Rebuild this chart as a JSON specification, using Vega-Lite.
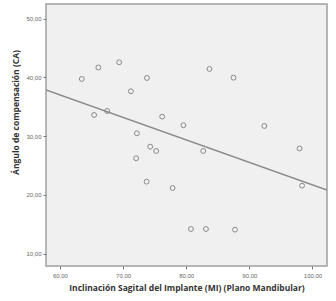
{
  "$schema": "https://vega.github.io/schema/vega-lite/v6.json",
  "autosize": "none",
  "width": 281,
  "height": 262,
  "padding": {"left": 46, "top": 4, "right": 9, "bottom": 35},
  "background": "white",
  "config": {
    "view": {"fill": "#f0f0f0", "stroke": "#a0a0a0", "strokeWidth": 1.5},
    "axis": {
      "grid": false,
      "domain": false,
      "tickColor": "#777",
      "tickSize": 3,
      "labelFont": "Liberation Sans",
      "labelFontSize": 6,
      "labelColor": "#666",
      "titleFont": "Open Sans",
      "titleFontSize": 8.5,
      "titleFontWeight": "bold",
      "titleColor": "#333"
    }
  },
  "data": {
    "values": [
      {"mi": 63.47, "ca": 39.74},
      {"mi": 66.09, "ca": 41.69},
      {"mi": 69.39, "ca": 42.58},
      {"mi": 71.24, "ca": 37.64},
      {"mi": 73.78, "ca": 39.91},
      {"mi": 65.42, "ca": 33.61},
      {"mi": 67.48, "ca": 34.29},
      {"mi": 76.20, "ca": 33.32},
      {"mi": 72.19, "ca": 30.49},
      {"mi": 74.30, "ca": 28.21},
      {"mi": 75.25, "ca": 27.48},
      {"mi": 72.08, "ca": 26.24},
      {"mi": 73.73, "ca": 22.26},
      {"mi": 77.85, "ca": 21.18},
      {"mi": 79.56, "ca": 31.86},
      {"mi": 80.75, "ca": 14.20},
      {"mi": 83.13, "ca": 14.20},
      {"mi": 87.73, "ca": 14.09},
      {"mi": 83.69, "ca": 41.44},
      {"mi": 87.49, "ca": 39.96},
      {"mi": 92.37, "ca": 31.74},
      {"mi": 82.70, "ca": 27.48},
      {"mi": 97.95, "ca": 27.91},
      {"mi": 98.35, "ca": 21.57}
    ]
  },
  "layer": [
    {
      "transform": [
        {"regression": "ca", "on": "mi", "extent": [57.8, 102.3]}
      ],
      "mark": {"type": "line", "color": "#8a8a8a", "strokeWidth": 1.5, "clip": true},
      "encoding": {
        "x": {"field": "mi", "type": "quantitative"},
        "y": {"field": "ca", "type": "quantitative"}
      }
    },
    {
      "mark": {"type": "point", "shape": "circle", "filled": false, "color": "#8a8a8a", "size": 24, "strokeWidth": 1, "opacity": 1},
      "encoding": {
        "x": {
          "field": "mi",
          "type": "quantitative",
          "scale": {"domain": [57.8, 102.3], "nice": false, "zero": false},
          "axis": {
            "values": [60, 70, 80, 90, 100],
            "title": "Inclinación Sagital del Implante (MI) (Plano Mandibular)",
            "labelExpr": "replace(format(datum.value, '.2f'), '.', ',')",
            "labelPadding": 3,
            "titlePadding": 5
          }
        },
        "y": {
          "field": "ca",
          "type": "quantitative",
          "scale": {"domain": [7.9, 52.5], "nice": false, "zero": false},
          "axis": {
            "values": [10, 20, 30, 40, 50],
            "title": "Ángulo de compensación (CA)",
            "labelExpr": "replace(format(datum.value, '.2f'), '.', ',')",
            "labelPadding": 2,
            "titlePadding": 5,
            "titleY": 108
          }
        }
      }
    }
  ]
}
